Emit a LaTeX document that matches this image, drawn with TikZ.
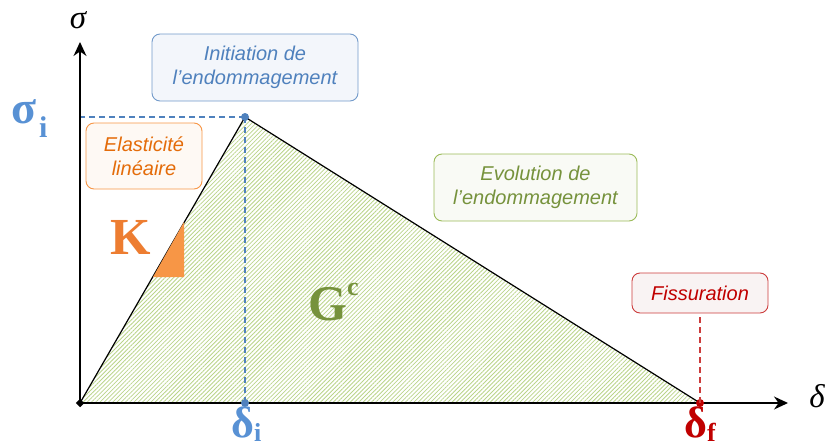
\documentclass[tikz,border=0pt]{standalone}
\usepackage{fontspec}
\setmainfont{Liberation Serif}
\setsansfont{Liberation Sans}
\usepackage{tikz}
\usetikzlibrary{arrows.meta,patterns.meta,positioning}
\definecolor{bleuT}{RGB}{79,129,189}
\definecolor{bleuL}{RGB}{88,145,212}
\definecolor{bleuF}{RGB}{243,246,251}
\definecolor{orangeT}{RGB}{228,108,10}
\definecolor{orangeL}{RGB}{247,150,70}
\definecolor{orangeK}{RGB}{237,125,49}
\definecolor{orangeF}{RGB}{254,249,244}
\definecolor{vertT}{RGB}{118,146,60}
\definecolor{vertL}{RGB}{155,187,89}
\definecolor{vertF}{RGB}{249,250,245}
\definecolor{hachure}{RGB}{186,212,138}
\definecolor{rougeT}{RGB}{192,0,0}
\definecolor{rougeL}{RGB}{204,60,60}
\definecolor{rougeF}{RGB}{249,243,243}
\tikzset{
  every picture/.style={draw=black, text=black},
}

\begin{document}
\begin{tikzpicture}[x=1pt, y=-1pt,
  infobox/.style={draw, rounded corners=8pt, line width=0.9pt, align=center, inner sep=0pt,
    font=\sffamily\itshape\fontsize{20}{24}\selectfont},
  biglbl/.style={anchor=base west, inner sep=0pt, font=\bfseries\fontsize{44}{44}\selectfont},
  axlbl/.style={inner sep=0pt, font=\itshape\fontsize{33}{33}\selectfont},
  guide/.style={dashed, dash pattern=on 6pt off 4pt, line width=1.2pt},
  every node/.style={text=black}]
\useasboundingbox (0,0) rectangle (826,447);
% Key points of the law
\coordinate (O) at (80,403);
\coordinate (P) at (245,117);
\coordinate (F) at (700,403);
\coordinate (Si) at (80,117);
\coordinate (Di) at (245,403);
\coordinate (Ytop) at (80,42);
\coordinate (Xend) at (788,403);
% Dissipated energy
\fill[pattern={Lines[angle=45,distance=3pt,line width=0.8pt]}, pattern color=hachure]
  (O) -- (P) -- (F) -- cycle;
% Guides to the axes
\draw[guide, bleuT] (P) -- (Si);
\draw[guide, bleuT] (P) -- (Di);
% Bilinear law
\draw[line width=1.2pt] (O) -- (P) -- (F);
\fill[orangeL] (153,277) -- (184,277) -- (184,222) -- cycle;
% Axes
\draw[line width=1.4pt, -{Stealth[length=14pt,width=13pt]}] (O) -- (Ytop);
\draw[line width=1.4pt, -{Stealth[length=14pt,width=13pt]}] (O) -- (Xend);
\node[fill=black, minimum size=6pt, inner sep=0pt, rotate=45] (Odot) at (O) {};
\node[axlbl] (sigAx) at (78,20) {σ};
\node[axlbl] (delAx) at (817,396) {δ};
% Dots
\fill[bleuT] (P) circle (4pt);
\fill[bleuT] (Di) circle (4pt);
\fill[rougeT] (F) circle (4pt);
% Values
\node[biglbl, text=bleuL, font=\bfseries\fontsize{46}{46}\selectfont] (sigI) at (11,123)
  {σ\kern3pt\raisebox{-14pt}{\fontsize{30}{30}\selectfont i}};
\node[biglbl, text=bleuL] (deltaI) at (231,437) {δ\raisebox{-4pt}{\fontsize{26}{26}\selectfont i}};
\node[biglbl, text=rougeT] (deltaF) at (684,437) {δ\raisebox{-4pt}{\fontsize{26}{26}\selectfont f}};
\node[biglbl, text=orangeK, font=\bfseries\fontsize{52}{52}\selectfont] (kLbl) at (110,254) {K};
\node[biglbl, text=vertT, font=\bfseries\fontsize{50}{50}\selectfont] (gLbl) at (308,320)
  {G\raisebox{25pt}{\fontsize{26}{26}\selectfont c}};
% Stages
\node[infobox, draw=bleuT!80, fill=bleuF, text=bleuT, minimum width=206pt, minimum height=67pt]
  (initBox) at (255,67.5) {Initiation de\\l’endommagement};
\node[infobox, draw=orangeL, fill=orangeF, text=orangeT, minimum width=116pt, minimum height=66pt]
  (elasBox) at (144,156) {Elasticité\\linéaire};
\node[infobox, draw=vertL, fill=vertF, text=vertT, minimum width=203pt, minimum height=67pt]
  (evolBox) at (535.5,187.5) {Evolution de\\l’endommagement};
\node[infobox, draw=rougeL, fill=rougeF, text=rougeT, minimum width=136pt, minimum height=40pt]
  (fissBox) at (700,293) {Fissuration};
\draw[guide, rougeL] (F) -- (fissBox.south);
\end{tikzpicture}
\end{document}
